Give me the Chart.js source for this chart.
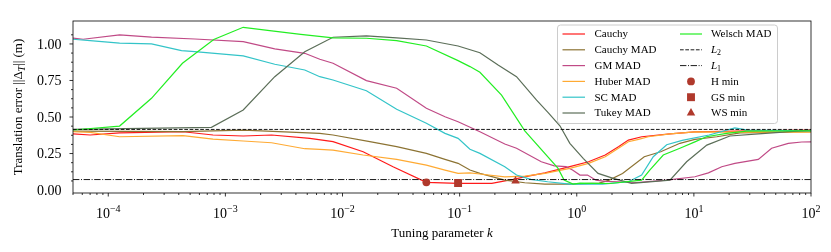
<!DOCTYPE html>
<html>
<head>
<meta charset="utf-8">
<title>Translation error vs tuning parameter</title>
<script src="https://cdn.jsdelivr.net/npm/chart.js@4.4.1/dist/chart.umd.min.js"></script>
<style>
  html, body { margin: 0; padding: 0; background: #ffffff; }
  canvas { display: block; }
</style>
</head>
<body>
<canvas id="errorChart" width="831" height="252"></canvas>
<script>
// values: tuning parameter k -> translation error (m)
const cauchyK = [5e-5, 7e-5, 1.25e-4, 4.35e-4, 7.85e-4, 1.42e-3, 2.48e-3, 5.26e-3, 8.3e-3, 0.015, 0.027, 0.052, 0.097, 0.188, 0.286, 0.385, 0.535, 0.873, 1.26, 1.75, 2.27, 2.76, 3.59, 6.25, 10.2, 30, 100];
const cauchyErr = [0.384, 0.377, 0.392, 0.399, 0.377, 0.370, 0.377, 0.354, 0.331, 0.262, 0.160, 0.053, 0.046, 0.046, 0.073, 0.096, 0.118, 0.160, 0.194, 0.240, 0.297, 0.342, 0.365, 0.384, 0.398, 0.405, 0.410];

const cauchyMadK = [5e-5, 4.35e-4, 1.42e-3, 6.4e-3, 8.3e-3, 0.0171, 0.029, 0.052, 0.075, 0.097, 0.1225, 0.149, 0.243, 0.36, 0.535, 0.873, 1.555, 1.89, 2.46, 3.77, 5.21, 7.6, 10.2, 15.7, 24.8, 100];
const cauchyMadErr = [0.404, 0.400, 0.410, 0.388, 0.377, 0.331, 0.297, 0.251, 0.210, 0.183, 0.137, 0.114, 0.068, 0.050, 0.041, 0.041, 0.048, 0.068, 0.114, 0.228, 0.262, 0.320, 0.347, 0.365, 0.392, 0.400];

const gmMadK = [5e-5, 6.1e-5, 1.25e-4, 2.34e-4, 5.48e-4, 1.42e-3, 2.64e-3, 4.76e-3, 6.4e-3, 8.3e-3, 0.016, 0.029, 0.052, 0.075, 0.097, 0.149, 0.243, 0.306, 0.498, 0.643, 0.81, 0.92, 1.065, 1.235, 1.46, 1.75, 3.25, 5.86, 10.2, 13.3, 17.3, 22.4, 35.5, 46.1, 64, 83.3, 100];
const gmMadErr = [1.040, 1.032, 1.062, 1.046, 1.034, 1.016, 0.966, 0.936, 0.895, 0.868, 0.749, 0.697, 0.560, 0.502, 0.468, 0.399, 0.315, 0.286, 0.194, 0.166, 0.160, 0.137, 0.103, 0.103, 0.068, 0.060, 0.052, 0.068, 0.091, 0.118, 0.160, 0.183, 0.210, 0.286, 0.320, 0.329, 0.330];

const huberMadK = [5e-5, 7e-5, 1.25e-4, 4.35e-4, 7.85e-4, 1.42e-3, 2.48e-3, 4.76e-3, 6.4e-3, 8.3e-3, 0.015, 0.029, 0.052, 0.075, 0.097, 0.1225, 0.149, 0.243, 0.36, 0.535, 0.873, 1.26, 1.75, 2.27, 2.76, 3.37, 4.09, 6.25, 10.2, 100];
const huberMadErr = [0.399, 0.395, 0.365, 0.372, 0.349, 0.336, 0.324, 0.283, 0.279, 0.274, 0.240, 0.210, 0.171, 0.137, 0.114, 0.118, 0.110, 0.091, 0.096, 0.114, 0.149, 0.183, 0.228, 0.286, 0.331, 0.347, 0.365, 0.384, 0.398, 0.397];

const scMadK = [5e-5, 7e-5, 1.25e-4, 2.34e-4, 4.22e-4, 5.48e-4, 1.42e-3, 2.64e-3, 4.76e-3, 6.4e-3, 8.3e-3, 0.016, 0.029, 0.052, 0.075, 0.097, 0.1225, 0.149, 0.243, 0.306, 0.406, 0.564, 0.873, 1.66, 2.76, 3.58, 4.5, 5.86, 7.95, 13.5, 22.4, 28.6, 100];
const scMadErr = [1.032, 1.023, 1.005, 1.000, 0.954, 0.947, 0.918, 0.861, 0.822, 0.776, 0.753, 0.680, 0.553, 0.457, 0.388, 0.354, 0.279, 0.251, 0.160, 0.103, 0.073, 0.057, 0.041, 0.041, 0.057, 0.103, 0.228, 0.310, 0.340, 0.377, 0.425, 0.410, 0.405];

const tukeyMadK = [5e-5, 7.6e-4, 1.42e-3, 2.64e-3, 4.76e-3, 8.3e-3, 0.016, 0.029, 0.052, 0.097, 0.149, 0.213, 0.306, 0.454, 0.57, 0.718, 0.873, 1.135, 1.52, 2.05, 2.94, 6.25, 8.67, 12.9, 20.3, 35.5, 100];
const tukeyMadErr = [0.416, 0.429, 0.548, 0.776, 0.947, 1.046, 1.055, 1.041, 1.027, 0.986, 0.940, 0.856, 0.776, 0.616, 0.530, 0.440, 0.320, 0.217, 0.114, 0.080, 0.046, 0.068, 0.194, 0.308, 0.370, 0.384, 0.410];

const welschMadK = [5e-5, 1.25e-4, 2.34e-4, 4.3e-4, 7.96e-4, 1.42e-3, 2.49e-3, 4.4e-3, 8.3e-3, 0.016, 0.029, 0.052, 0.097, 0.1225, 0.149, 0.228, 0.36, 0.69, 0.78, 0.93, 1.065, 1.92, 3.58, 4.2, 5.48, 7.6, 10.2, 12.8, 19, 28.2, 100];
const welschMadErr = [0.411, 0.438, 0.628, 0.868, 1.030, 1.114, 1.090, 1.065, 1.041, 1.039, 1.023, 0.986, 0.886, 0.845, 0.806, 0.650, 0.405, 0.150, 0.068, 0.041, 0.048, 0.045, 0.068, 0.137, 0.240, 0.286, 0.330, 0.365, 0.388, 0.404, 0.406];

// reference levels
const l2Err = 0.415;
const l1Err = 0.072;

// minima markers
const minLabels = ['H min', 'GS min', 'WS min'];
const minK = [0.052, 0.097, 0.30];
const minErr = [0.053, 0.048, 0.062];

// axes
const kRange = [5e-5, 100];
const errRange = [-0.02, 1.157];
const xTickExps = [-4, -3, -2, -1, 0, 1, 2];
const yTickLabels = ['0.00', '0.25', '0.50', '0.75', '1.00'];

const serif = '"Liberation Serif", "Times New Roman", Times, serif';
const markerColor = '#b0392c';

function font(size, italic) {
  return (italic ? 'italic ' : '') + size + 'px ' + serif;
}

// draw a row of text runs [{text, size, italic, dy}]
function drawRuns(ctx, runs, x, y, align) {
  let total = 0;
  runs.forEach(r => {
    ctx.font = font(r.size, r.italic);
    r.w = ctx.measureText(r.text).width;
    total += r.w;
  });
  let cx = align === 'center' ? x - total / 2 : (align === 'right' ? x - total : x);
  ctx.textAlign = 'left';
  runs.forEach(r => {
    ctx.font = font(r.size, r.italic);
    ctx.fillText(r.text, cx, y + (r.dy || 0));
    cx += r.w;
  });
}

function labelRuns(label, size) {
  const m = /^L(\d)$/.exec(label);
  if (m) return [{ text: 'L', size: size, italic: true }, { text: m[1], size: size * 0.72, dy: 3 }];
  return [{ text: label, size: size }];
}

function line(label, ks, errs, color, extra) {
  return Object.assign({
    label: label,
    data: ks.map((k, i) => ({ x: k, y: errs[i] })),
    borderColor: color,
    backgroundColor: color,
    borderWidth: 1.2,
    pointRadius: 0,
    tension: 0,
    fill: false
  }, extra || {});
}

const datasets = [
  line('Cauchy', cauchyK, cauchyErr, '#ff1a1a'),
  line('Cauchy MAD', cauchyMadK, cauchyMadErr, '#8c7333'),
  line('GM MAD', gmMadK, gmMadErr, '#c04a86'),
  line('Huber MAD', huberMadK, huberMadErr, '#ffaa33'),
  line('SC MAD', scMadK, scMadErr, '#33c4c8'),
  line('Tukey MAD', tukeyMadK, tukeyMadErr, '#5b6e58'),
  line('Welsch MAD', welschMadK, welschMadErr, '#22ee22'),
  line('L2', kRange, [l2Err, l2Err], '#000000', { borderDash: [3.7, 1.6], borderWidth: 0.9 }),
  line('L1', kRange, [l1Err, l1Err], '#000000', { borderDash: [6.4, 1.6, 1, 1.6], borderWidth: 0.9 })
];
const markerStyles = ['circle', 'rect', 'triangle'];
const markerRadius = [3.9, 5.6, 4.9];
minLabels.forEach((lab, i) => {
  datasets.push({
    label: lab,
    data: [{ x: minK[i], y: minErr[i] }],
    showLine: false,
    pointStyle: markerStyles[i],
    pointRadius: markerRadius[i],
    pointBackgroundColor: markerColor,
    pointBorderColor: markerColor,
    pointBorderWidth: 0,
    borderColor: markerColor,
    backgroundColor: markerColor
  });
});
// later datasets on top, like the original
datasets.forEach((d, i) => { d.order = datasets.length - i; });

function drawMarker(ctx, style, x, y, r) {
  ctx.beginPath();
  if (style === 'circle') {
    ctx.arc(x, y, r, 0, Math.PI * 2);
  } else if (style === 'rect') {
    const s = r * Math.SQRT1_2;
    ctx.rect(x - s, y - s, 2 * s, 2 * s);
  } else {
    ctx.moveTo(x, y - r);
    ctx.lineTo(x + r * 0.866, y + r * 0.5);
    ctx.lineTo(x - r * 0.866, y + r * 0.5);
    ctx.closePath();
  }
  ctx.fill();
}

const axesPlugin = {
  id: 'mplAxes',
  afterDraw(chart) {
    const ctx = chart.ctx;
    const a = chart.chartArea;
    const xs = chart.scales.x;
    const ys = chart.scales.y;
    ctx.save();
    ctx.fillStyle = '#000';
    ctx.strokeStyle = '#000';
    ctx.lineWidth = 0.8;

    // frame
    ctx.strokeRect(a.left, a.top, a.right - a.left, a.bottom - a.top);

    // x ticks: decades long, 2..9 short
    ctx.beginPath();
    xs.ticks.forEach(t => {
      const e = Math.floor(Math.log10(t.value) + 1e-9);
      const m = t.value / Math.pow(10, e);
      if (Math.abs(m - Math.round(m)) > 1e-6) return;
      const px = xs.getPixelForValue(t.value);
      if (px < a.left - 0.5 || px > a.right + 0.5) return;
      const len = Math.round(m) === 1 ? 3.5 : 2;
      ctx.moveTo(px, a.bottom);
      ctx.lineTo(px, a.bottom + len);
    });
    // y ticks: every 0.0625, labelled every 0.25
    ys.ticks.forEach(t => {
      const q = t.value / 0.0625;
      if (Math.abs(q - Math.round(q)) > 1e-6) return;
      const py = ys.getPixelForValue(t.value);
      if (py < a.top - 0.5 || py > a.bottom + 0.5) return;
      const len = Math.round(q) % 4 === 0 ? 3.5 : 2;
      ctx.moveTo(a.left, py);
      ctx.lineTo(a.left - len, py);
    });
    ctx.stroke();

    // tick labels
    ctx.textBaseline = 'alphabetic';
    xTickExps.forEach(e => {
      const px = xs.getPixelForValue(Math.pow(10, e));
      const exp = e < 0 ? '\u2212' + Math.abs(e) : String(e);
      drawRuns(ctx, [{ text: '10', size: 14 }, { text: exp, size: 10, dy: -6 }], px, 218, 'center');
    });
    ctx.textBaseline = 'middle';
    yTickLabels.forEach(l => {
      const py = ys.getPixelForValue(parseFloat(l));
      drawRuns(ctx, [{ text: l, size: 14 }], 61.5, py + 1, 'right');
    });

    // axis titles
    ctx.textBaseline = 'alphabetic';
    drawRuns(ctx, [{ text: 'Tuning parameter ', size: 13 }, { text: 'k', size: 13, italic: true }],
      (a.left + a.right) / 2, 237, 'center');
    ctx.save();
    ctx.translate(22, (a.top + a.bottom) / 2);
    ctx.rotate(-Math.PI / 2);
    drawRuns(ctx, [
      { text: 'Translation error ||\u0394', size: 13 },
      { text: 'T', size: 9.5, italic: true, dy: 3 },
      { text: '|| (m)', size: 13 }
    ], 0, 0, 'center');
    ctx.restore();

    // legend
    const box = { x: 557.5, y: 25, w: 220, h: 98.5 };
    ctx.beginPath();
    if (ctx.roundRect) ctx.roundRect(box.x, box.y, box.w, box.h, 3);
    else ctx.rect(box.x, box.y, box.w, box.h);
    ctx.fillStyle = 'rgba(255,255,255,0.8)';
    ctx.fill();
    ctx.strokeStyle = '#cccccc';
    ctx.lineWidth = 1;
    ctx.stroke();

    const cols = [{ l0: 562.5, l1: 585, tx: 594.5 }, { l0: 680, l1: 702, tx: 711 }];
    const rowY = [34, 49.8, 65.6, 81.4, 97.2, 113];
    ctx.textBaseline = 'middle';
    chart.data.datasets.forEach((d, i) => {
      const c = cols[Math.floor(i / 6)];
      const y = rowY[i % 6];
      if (d.showLine === false) {
        ctx.fillStyle = d.pointBackgroundColor;
        drawMarker(ctx, d.pointStyle, (c.l0 + c.l1) / 2, y, d.pointRadius);
      } else {
        ctx.strokeStyle = d.borderColor;
        ctx.lineWidth = d.borderWidth;
        ctx.setLineDash(d.borderDash || []);
        ctx.beginPath();
        ctx.moveTo(c.l0, y);
        ctx.lineTo(c.l1, y);
        ctx.stroke();
        ctx.setLineDash([]);
      }
      ctx.fillStyle = '#000';
      drawRuns(ctx, labelRuns(d.label, 11), c.tx, y + 0.5, 'left');
    });
    ctx.restore();
  }
};

new Chart(document.getElementById('errorChart'), {
  type: 'line',
  data: { datasets: datasets },
  options: {
    responsive: false,
    animation: false,
    devicePixelRatio: 1,
    events: [],
    layout: { padding: { left: 73, right: 20, top: 21, bottom: 59 } },
    scales: {
      x: {
        type: 'logarithmic',
        min: kRange[0],
        max: kRange[1],
        display: false,
        ticks: { display: false, autoSkip: false }
      },
      y: {
        type: 'linear',
        min: errRange[0],
        max: errRange[1],
        display: false,
        ticks: { display: false, autoSkip: false, stepSize: 0.0625 }
      }
    },
    plugins: {
      legend: { display: false },
      tooltip: { enabled: false }
    }
  },
  plugins: [axesPlugin]
});
</script>
</body>
</html>
